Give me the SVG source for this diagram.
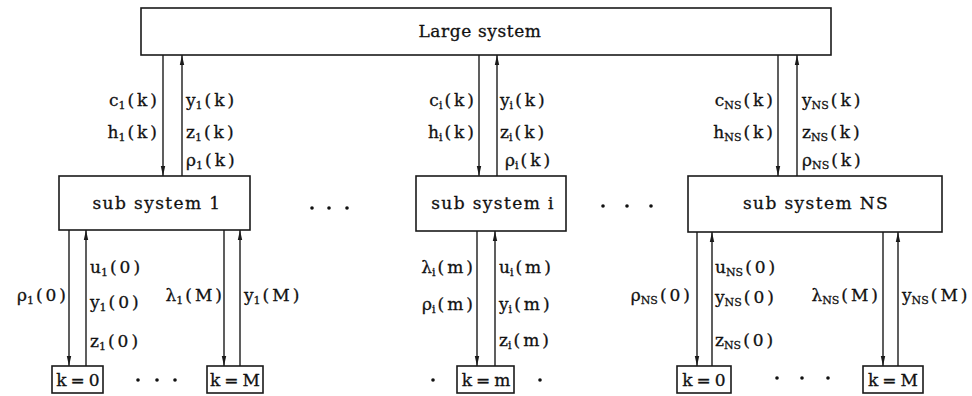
<svg xmlns="http://www.w3.org/2000/svg" width="972" height="396" viewBox="0 0 972 396">
<style>
.box{fill:#fff;stroke:#1a1a1a;stroke-width:1.6}
.ln{stroke:#1a1a1a;stroke-width:1.4;fill:none;marker-end:url(#ah)}
.t{font-family:"DejaVu Serif","Liberation Serif",serif;fill:#111;stroke:#111;stroke-width:0.3}
.big{font-size:17px;letter-spacing:0.6px}
.sb{font-size:17px;letter-spacing:1.4px}
.lab{font-size:17px}
.s{font-size:11px;letter-spacing:0}
.p{letter-spacing:3px}
.e{text-anchor:end}
.m{text-anchor:middle}
.kb{font-size:17px;letter-spacing:4px}
.dot{fill:#111}
</style>
<defs>
<marker id="ah" markerUnits="userSpaceOnUse" markerWidth="10" markerHeight="6" refX="10" refY="3" orient="auto">
<path d="M0,0.8 L10,3 L0,5.2 z" fill="#1a1a1a"/>
</marker>
</defs>

<g id="large">
<rect class="box" x="141" y="8" width="690" height="47"/>
<text class="t big m" x="480" y="37">Large system</text>
</g>

<g id="sub1">
<rect class="box" x="59" y="176" width="191" height="54"/>
<text class="t sb m" x="157" y="209">sub system 1</text>
</g>
<g id="subi">
<rect class="box" x="416" y="176" width="150" height="55"/>
<text class="t sb m" x="493" y="209">sub system i</text>
</g>
<g id="subNS">
<rect class="box" x="688" y="176" width="254" height="56"/>
<text class="t sb m" x="816" y="209">sub system NS</text>
</g>

<g id="k1_0">
<rect class="box" x="52" y="366" width="51" height="27"/>
<text class="t kb m" x="80" y="386">k=0</text>
</g>
<g id="k1_M">
<rect class="box" x="207" y="366" width="56" height="27"/>
<text class="t kb m" x="237" y="386">k=M</text>
</g>
<g id="ki_m">
<rect class="box" x="457" y="366" width="57" height="27"/>
<text class="t kb m" x="488" y="386">k=m</text>
</g>
<g id="kNS_0">
<rect class="box" x="677" y="366" width="54" height="27"/>
<text class="t kb m" x="706" y="386">k=0</text>
</g>
<g id="kNS_M">
<rect class="box" x="863" y="366" width="60" height="27"/>
<text class="t kb m" x="895" y="386">k=M</text>
</g>

<g id="dots">
<circle class="dot" cx="312" cy="208" r="1.8"/><circle class="dot" cx="329" cy="208" r="1.8"/><circle class="dot" cx="347" cy="208" r="1.8"/>
<circle class="dot" cx="603" cy="206" r="1.8"/><circle class="dot" cx="627" cy="206" r="1.8"/><circle class="dot" cx="651" cy="206" r="1.8"/>
<circle class="dot" cx="138" cy="380" r="1.8"/><circle class="dot" cx="157" cy="380" r="1.8"/><circle class="dot" cx="175" cy="380" r="1.8"/>
<circle class="dot" cx="433" cy="380" r="1.8"/><circle class="dot" cx="540" cy="380" r="1.8"/>
<circle class="dot" cx="777" cy="378" r="1.8"/><circle class="dot" cx="802" cy="378" r="1.8"/><circle class="dot" cx="828" cy="378" r="1.8"/>
</g>

<g id="connectors">
<line class="ln" x1="163" y1="55" x2="163" y2="176"/>
<line class="ln" x1="182" y1="176" x2="182" y2="55"/>
<line class="ln" x1="479" y1="55" x2="479" y2="176"/>
<line class="ln" x1="497" y1="176" x2="497" y2="55"/>
<line class="ln" x1="778" y1="55" x2="778" y2="176"/>
<line class="ln" x1="797" y1="176" x2="797" y2="55"/>

<line class="ln" x1="69" y1="230" x2="69" y2="366"/>
<line class="ln" x1="86" y1="366" x2="86" y2="230"/>
<line class="ln" x1="224" y1="230" x2="224" y2="366"/>
<line class="ln" x1="240" y1="366" x2="240" y2="230"/>
<line class="ln" x1="477" y1="231" x2="477" y2="366"/>
<line class="ln" x1="495" y1="366" x2="495" y2="231"/>
<line class="ln" x1="697" y1="232" x2="697" y2="366"/>
<line class="ln" x1="712" y1="366" x2="712" y2="232"/>
<line class="ln" x1="883" y1="232" x2="883" y2="366"/>
<line class="ln" x1="898" y1="366" x2="898" y2="232"/>
</g>

<g id="labels">
<text class="t lab e" x="160" y="106">c<tspan class="s" dy="3">1</tspan><tspan class="p" dx="2" dy="-3">(k)</tspan></text>
<text class="t lab e" x="160" y="138">h<tspan class="s" dy="3">1</tspan><tspan class="p" dx="2" dy="-3">(k)</tspan></text>
<text class="t lab" x="186" y="106">y<tspan class="s" dy="3">1</tspan><tspan class="p" dx="2" dy="-3">(k)</tspan></text>
<text class="t lab" x="186" y="138">z<tspan class="s" dy="3">1</tspan><tspan class="p" dx="2" dy="-3">(k)</tspan></text>
<text class="t lab" x="186" y="166">ρ<tspan class="s" dy="3">1</tspan><tspan class="p" dx="2" dy="-3">(k)</tspan></text>

<text class="t lab e" x="477" y="106">c<tspan class="s" dy="3">i</tspan><tspan class="p" dx="2" dy="-3">(k)</tspan></text>
<text class="t lab e" x="477" y="138">h<tspan class="s" dy="3">i</tspan><tspan class="p" dx="2" dy="-3">(k)</tspan></text>
<text class="t lab" x="500" y="106">y<tspan class="s" dy="3">i</tspan><tspan class="p" dx="2" dy="-3">(k)</tspan></text>
<text class="t lab" x="500" y="138">z<tspan class="s" dy="3">i</tspan><tspan class="p" dx="2" dy="-3">(k)</tspan></text>
<text class="t lab" x="505" y="166">ρ<tspan class="s" dy="3">i</tspan><tspan class="p" dx="2" dy="-3">(k)</tspan></text>

<text class="t lab e" x="776" y="106">c<tspan class="s" dy="3">NS</tspan><tspan class="p" dx="2" dy="-3">(k)</tspan></text>
<text class="t lab e" x="776" y="138">h<tspan class="s" dy="3">NS</tspan><tspan class="p" dx="2" dy="-3">(k)</tspan></text>
<text class="t lab" x="802" y="106">y<tspan class="s" dy="3">NS</tspan><tspan class="p" dx="2" dy="-3">(k)</tspan></text>
<text class="t lab" x="802" y="138">z<tspan class="s" dy="3">NS</tspan><tspan class="p" dx="2" dy="-3">(k)</tspan></text>
<text class="t lab" x="802" y="166">ρ<tspan class="s" dy="3">NS</tspan><tspan class="p" dx="2" dy="-3">(k)</tspan></text>

<text class="t lab e" x="69" y="301">ρ<tspan class="s" dy="3">1</tspan><tspan class="p" dx="2" dy="-3">(0)</tspan></text>
<text class="t lab" x="90" y="273">u<tspan class="s" dy="3">1</tspan><tspan class="p" dx="2" dy="-3">(0)</tspan></text>
<text class="t lab" x="90" y="308">y<tspan class="s" dy="3">1</tspan><tspan class="p" dx="2" dy="-3">(0)</tspan></text>
<text class="t lab" x="90" y="347">z<tspan class="s" dy="3">1</tspan><tspan class="p" dx="2" dy="-3">(0)</tspan></text>
<text class="t lab e" x="225" y="301">λ<tspan class="s" dy="3">1</tspan><tspan class="p" dx="2" dy="-3">(M)</tspan></text>
<text class="t lab" x="244" y="301">y<tspan class="s" dy="3">1</tspan><tspan class="p" dx="2" dy="-3">(M)</tspan></text>

<text class="t lab e" x="476" y="273">λ<tspan class="s" dy="3">i</tspan><tspan class="p" dx="2" dy="-3">(m)</tspan></text>
<text class="t lab e" x="476" y="310">ρ<tspan class="s" dy="3">i</tspan><tspan class="p" dx="2" dy="-3">(m)</tspan></text>
<text class="t lab" x="499" y="273">u<tspan class="s" dy="3">i</tspan><tspan class="p" dx="2" dy="-3">(m)</tspan></text>
<text class="t lab" x="499" y="310">y<tspan class="s" dy="3">i</tspan><tspan class="p" dx="2" dy="-3">(m)</tspan></text>
<text class="t lab" x="499" y="346">z<tspan class="s" dy="3">i</tspan><tspan class="p" dx="2" dy="-3">(m)</tspan></text>

<text class="t lab e" x="693" y="301">ρ<tspan class="s" dy="3">NS</tspan><tspan class="p" dx="2" dy="-3">(0)</tspan></text>
<text class="t lab" x="715" y="273">u<tspan class="s" dy="3">NS</tspan><tspan class="p" dx="2" dy="-3">(0)</tspan></text>
<text class="t lab" x="715" y="303">y<tspan class="s" dy="3">NS</tspan><tspan class="p" dx="2" dy="-3">(0)</tspan></text>
<text class="t lab" x="715" y="346">z<tspan class="s" dy="3">NS</tspan><tspan class="p" dx="2" dy="-3">(0)</tspan></text>
<text class="t lab e" x="881" y="301">λ<tspan class="s" dy="3">NS</tspan><tspan class="p" dx="2" dy="-3">(M)</tspan></text>
<text class="t lab" x="902" y="301">y<tspan class="s" dy="3">NS</tspan><tspan class="p" dx="2" dy="-3">(M)</tspan></text>
</g>
</svg>
